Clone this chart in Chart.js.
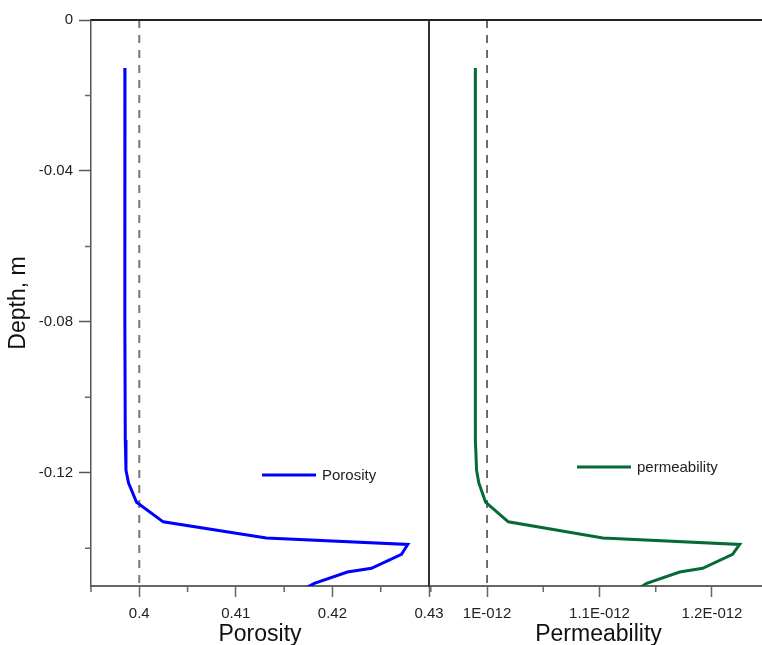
<!DOCTYPE html>
<html lang="en">
<head>
<meta charset="UTF-8">
<title>Porosity and permeability vs depth</title>
<script src="https://cdn.jsdelivr.net/npm/chart.js"></script>
<style>
  html, body { margin: 0; padding: 0; background: #fff; overflow: hidden; }
  .wrap { position: relative; width: 762px; height: 645px; overflow: hidden; }
  canvas { position: absolute; left: 0; top: 0; }
</style>
</head>
<body>
<div class="wrap">
  <canvas id="porChart" width="768" height="645"></canvas>
  <canvas id="permChart" width="768" height="645"></canvas>
</div>
<script>
// depth of each profile node, m
const depth = [-0.0127, -0.04, -0.08, -0.1113, -0.1193, -0.1227, -0.1278, -0.1330, -0.1373, -0.1390, -0.1416, -0.1453, -0.1463, -0.1493, -0.1503];
const porosity = [0.39852, 0.39850, 0.39851, 0.39855, 0.39862, 0.39889, 0.39972, 0.40248, 0.41316, 0.42780, 0.42715, 0.42404, 0.42155, 0.41813, 0.41741];
const permeability = [0.9896e-12, 0.9895e-12, 0.9896e-12, 0.9898e-12, 0.9907e-12, 0.9927e-12, 0.9987e-12, 1.0189e-12, 1.1030e-12, 1.2246e-12, 1.2183e-12, 1.1917e-12, 1.1713e-12, 1.1420e-12, 1.1367e-12];

// initial values (dashed lines)
const porosityRef = 0.4;
const permeabilityRef = 1e-12;

const depthTicks = [0, -0.04, -0.08, -0.12];
const depthLabels = ['0', '-0.04', '-0.08', '-0.12'];
const depthMinor = [-0.02, -0.06, -0.10, -0.14];
const porTicks = [0.4, 0.41, 0.42, 0.43];
const porLabels = ['0.4', '0.41', '0.42', '0.43'];
const porMinor = [0.395, 0.405, 0.415, 0.425];
const permTicks = [1e-12, 1.1e-12, 1.2e-12];
const permLabels = ['1E-012', '1.1E-012', '1.2E-012'];
const permMinor = [0.95e-12, 1.05e-12, 1.15e-12];

const FONT = 'Arial, "Liberation Sans", sans-serif';
const depthMin = -0.15, depthMax = 0;

// frame top line, minor ticks and the in-plot legend
const decor = {
  id: 'decor',
  afterDraw(chart, args, o) {
    const { ctx, chartArea: a, scales } = chart;
    ctx.save();
    ctx.strokeStyle = '#222';
    ctx.lineWidth = 2;
    ctx.beginPath();
    ctx.moveTo(a.left, a.top);
    ctx.lineTo(a.right, a.top);
    ctx.stroke();

    ctx.strokeStyle = '#666';
    ctx.lineWidth = 1.5;
    ctx.beginPath();
    o.xMinor.forEach(v => {
      const px = scales.x.getPixelForValue(v);
      ctx.moveTo(px, a.bottom);
      ctx.lineTo(px, a.bottom + 6);
    });
    if (o.yMinor) {
      o.yMinor.forEach(v => {
        const py = scales.y.getPixelForValue(v);
        ctx.moveTo(a.left, py);
        ctx.lineTo(a.left - 6, py);
      });
    }
    ctx.stroke();

    const lg = o.legend;
    ctx.strokeStyle = lg.color;
    ctx.lineWidth = 3;
    ctx.beginPath();
    ctx.moveTo(lg.x, lg.y);
    ctx.lineTo(lg.x + 54, lg.y);
    ctx.stroke();
    ctx.fillStyle = '#222';
    ctx.font = '15px ' + FONT;
    ctx.textBaseline = 'middle';
    ctx.fillText(lg.text, lg.x + 60, lg.y + 1);
    ctx.restore();
  }
};

function profile(values) {
  return values.map((v, i) => ({ x: v, y: depth[i] }));
}

function xAxis(min, max, ticks, labels, title) {
  return {
    type: 'linear', position: 'bottom', min, max,
    afterBuildTicks: s => { s.ticks = ticks.map(v => ({ value: v })); },
    afterFit: s => { s.height = 59; },
    grid: { drawOnChartArea: false, tickLength: 11, tickColor: '#666', tickWidth: 1.5 },
    border: { color: '#666', width: 2 },
    ticks: { color: '#222', font: { size: 15, family: FONT }, padding: 8, maxRotation: 0, autoSkip: false,
             callback: (v, i) => labels[i] },
    title: { display: true, text: title, color: '#111', font: { size: 23, family: FONT, lineHeight: 1 },
             padding: { top: 0, bottom: -1 } }
  };
}

new Chart(document.getElementById('porChart'), {
  type: 'scatter',
  data: {
    datasets: [
      { label: 'Porosity', data: profile(porosity), showLine: true, borderColor: '#0000ff',
        borderWidth: 3, pointRadius: 0, tension: 0 },
      { label: 'ref', data: [{ x: porosityRef, y: depthMax }, { x: porosityRef, y: depthMin }], showLine: true,
        borderColor: '#777', borderWidth: 2, borderDash: [8, 7], pointRadius: 0 }
    ]
  },
  options: {
    responsive: false, animation: false, devicePixelRatio: 1,
    layout: { padding: { left: 0, right: 339, top: 20, bottom: 0 } },
    plugins: {
      legend: { display: false }, tooltip: { enabled: false },
      decor: { xMinor: porMinor, yMinor: depthMinor, legend: { x: 262, y: 475, color: '#0000ff', text: 'Porosity' } }
    },
    scales: {
      x: xAxis(0.395, 0.43, porTicks, porLabels, 'Porosity'),
      y: {
        type: 'linear', min: depthMin, max: depthMax,
        afterBuildTicks: s => { s.ticks = depthTicks.map(v => ({ value: v })); },
        afterFit: s => { s.width = 91; },
        grid: { drawOnChartArea: false, tickLength: 12, tickColor: '#555', tickWidth: 1.5 },
        border: { color: '#555', width: 1.5 },
        ticks: { color: '#222', font: { size: 15, family: FONT }, padding: 6, callback: (v, i) => depthLabels[i] },
        title: { display: true, text: 'Depth, m', color: '#111', font: { size: 23, family: FONT, lineHeight: 1 },
                 padding: { top: 7, bottom: 0 } }
      }
    }
  },
  plugins: [decor]
});

new Chart(document.getElementById('permChart'), {
  type: 'scatter',
  data: {
    datasets: [
      { label: 'permeability', data: profile(permeability), showLine: true, borderColor: '#076a36',
        borderWidth: 3, pointRadius: 0, tension: 0 },
      { label: 'ref', data: [{ x: permeabilityRef, y: depthMax }, { x: permeabilityRef, y: depthMin }], showLine: true,
        borderColor: '#222', borderWidth: 1.3, borderDash: [8, 7], pointRadius: 0 }
    ]
  },
  options: {
    responsive: false, animation: false, devicePixelRatio: 1,
    layout: { padding: { left: 429, right: 0, top: 20, bottom: 0 } },
    plugins: {
      legend: { display: false }, tooltip: { enabled: false },
      decor: { xMinor: permMinor, legend: { x: 577, y: 467, color: '#076a36', text: 'permeability' } }
    },
    scales: {
      x: xAxis(0.9484e-12, 1.2498e-12, permTicks, permLabels, 'Permeability'),
      y: {
        type: 'linear', min: depthMin, max: depthMax,
        afterBuildTicks: s => { s.ticks = []; },
        afterFit: s => { s.width = 0; },
        grid: { display: false },
        border: { display: true, color: '#333', width: 2 },
        ticks: { display: false }
      }
    }
  },
  plugins: [decor]
});
</script>
</body>
</html>
